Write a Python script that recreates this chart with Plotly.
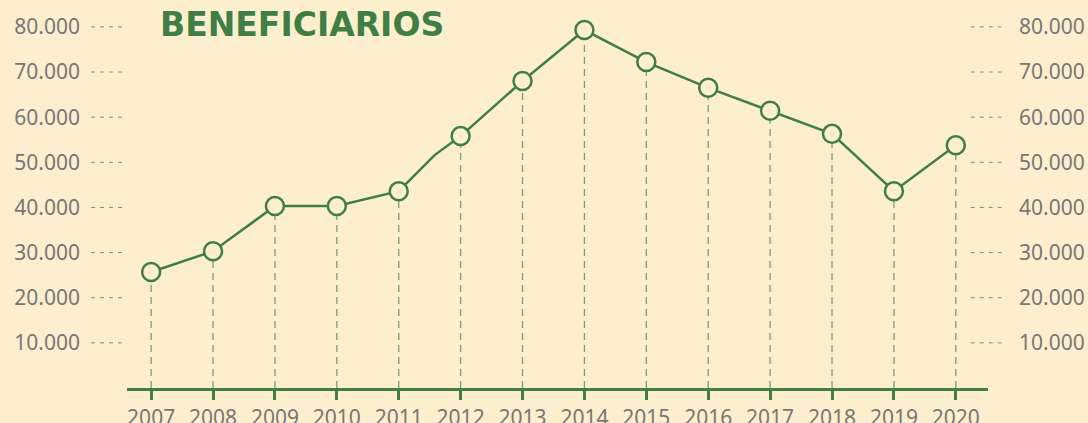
import plotly.graph_objects as go

years = [2007, 2008, 2009, 2010, 2011, 2012, 2013, 2014, 2015, 2016, 2017, 2018, 2019, 2020]
beneficiarios = [25700, 30300, 40300, 40300, 43600, 55800, 68000, 79300, 72200, 66500, 61400, 56300, 43600, 53800]
# extra vertex of the drawn line between 2011 and 2012 (no marker)
kink_x = [2011.58]
kink_y = [51600]
y_ticks = [10000, 20000, 30000, 40000, 50000, 60000, 70000, 80000]
y_labels = ["10.000", "20.000", "30.000", "40.000", "50.000", "60.000", "70.000", "80.000"]
title_text = "BENEFICIARIOS"

GREEN = "#3d8045"
BG = "#fdefce"
GRAY = "#777777"

line_x = years[:5] + kink_x + years[5:]
line_y = beneficiarios[:5] + kink_y + beneficiarios[5:]

drop_x, drop_y = [], []
for x, v in zip(years, beneficiarios):
    drop_x += [x, x, None]
    drop_y += [0, v, None]

fig = go.Figure()
fig.add_trace(go.Scatter(x=drop_x, y=drop_y, mode="lines",
                         line=dict(color="rgba(61,128,69,0.7)", width=1.3, dash="7px,5px"),
                         hoverinfo="skip", showlegend=False))
fig.add_trace(go.Scatter(x=line_x, y=line_y, mode="lines",
                         line=dict(color=GREEN, width=2.5), showlegend=False, hoverinfo="skip"))
fig.add_trace(go.Scatter(x=years, y=beneficiarios, mode="markers",
                         marker=dict(size=18, color=BG, line=dict(color=GREEN, width=2.5)),
                         showlegend=False))
# invisible trace for right axis
fig.add_trace(go.Scatter(x=[years[0]], y=[beneficiarios[0]], yaxis="y2", mode="markers",
                         marker=dict(opacity=0), showlegend=False, hoverinfo="skip"))

for t in y_ticks:
    for x0, x1 in [(-0.0418, -0.0035), (0.980, 1.0197)]:
        fig.add_shape(type="line", xref="paper", yref="y", x0=x0, x1=x1, y0=t, y1=t,
                      line=dict(color="rgba(61,128,69,0.75)", width=1, dash="4px,5px"))

axis_font = dict(family="Noto Sans", size=21, color=GRAY)
yrange = [0, 83740]

fig.update_layout(
    width=1088, height=423,
    margin=dict(l=127, r=100, t=10, b=35, autoexpand=False),
    paper_bgcolor=BG, plot_bgcolor=BG,
    xaxis=dict(range=[2006.61, 2020.52], tickmode="array", tickvals=years,
               ticktext=[str(y) for y in years], showgrid=False, zeroline=False,
               showline=True, linecolor=GREEN, linewidth=3, automargin=False,
               ticks="outside", ticklen=9, tickwidth=3, tickcolor=GREEN,
               tickfont=axis_font),
    yaxis=dict(range=yrange, tickmode="array", tickvals=y_ticks, ticktext=y_labels,
               showgrid=False, zeroline=False, showline=False, ticks="", automargin=False,
               ticklabelstandoff=46, tickfont=axis_font),
    yaxis2=dict(range=yrange, overlaying="y", side="right", tickmode="array",
                tickvals=y_ticks, ticktext=y_labels, showgrid=False, zeroline=False,
                showline=False, ticks="", ticklabelstandoff=30, tickfont=axis_font,
                automargin=False),
    annotations=[dict(text="<b>" + title_text + "</b>", xref="paper", yref="paper",
                      x=(158 - 127) / 861, y=(423 - 35 - 24) / 378, xanchor="left", yanchor="middle",
                      showarrow=False,
                      font=dict(family="DejaVu Sans", size=33, color=GREEN, weight=700))],
)

fig.write_html("out.html", config={"displayModeBar": False},
               post_script="document.body.style.margin='0px';document.body.style.padding='0px';document.body.style.background='" + BG + "';")
